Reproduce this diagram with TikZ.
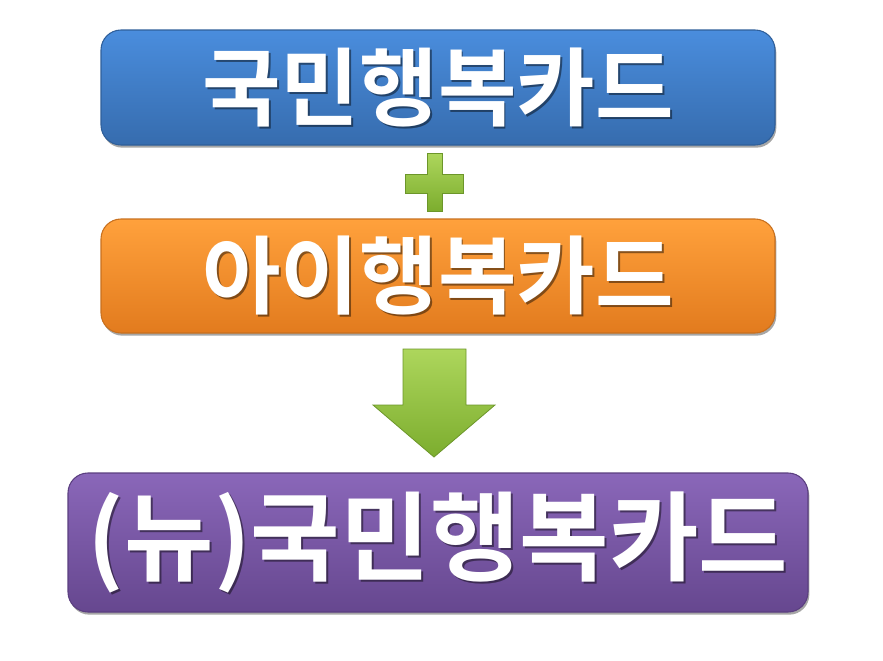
\documentclass[tikz,border=0pt]{standalone}
\usepackage{fontspec}
\newfontfamily\kr{Noto Sans CJK KR}[BoldFont={Noto Sans CJK KR Bold}]
\usetikzlibrary{shadows}
\definecolor{bluetop}{HTML}{4A8DDD}
\definecolor{bluebot}{HTML}{366CAE}
\definecolor{blueedge}{HTML}{2F5F9A}
\definecolor{orgtop}{HTML}{FFA13C}
\definecolor{orgbot}{HTML}{E27B1E}
\definecolor{orgedge}{HTML}{C8701E}
\definecolor{purtop}{HTML}{8A67B9}
\definecolor{purbot}{HTML}{66478F}
\definecolor{puredge}{HTML}{5B3F80}
\definecolor{grntop}{HTML}{ADD65C}
\definecolor{grnbot}{HTML}{7CAD2E}
\definecolor{grnedge}{HTML}{6C962A}
\tikzset{
  cardbox/.style={rounded corners=15pt, inner sep=0pt, line width=0.8pt,
    drop shadow={shadow xshift=1pt, shadow yshift=-2pt, opacity=0.35, fill=black}},
  cardtext/.style={text=white, inner sep=0pt},
  cardshadow/.style={text=black, opacity=0.45, inner sep=0pt},
  smallfont/.style={font=\kr\bfseries\fontsize{64}{66}\selectfont},
  bigfont/.style={font=\kr\bfseries\fontsize{73}{75}\selectfont},
  greenshape/.style={top color=grntop, bottom color=grnbot, draw=grnedge, line width=0.6pt}
}
\begin{document}
\begin{tikzpicture}[x=0.75pt,y=-0.75pt]
\useasboundingbox (0,0) rectangle (883,661);
% boxes
\node[cardbox, minimum width=505.5pt, minimum height=86.25pt,
  top color=bluetop, bottom color=bluebot, draw=blueedge] (blue) at (438,87.5) {};
\node[cardbox, minimum width=505.5pt, minimum height=85.5pt,
  top color=orgtop, bottom color=orgbot, draw=orgedge] (orange) at (438,276) {};
\node[cardbox, minimum width=555pt, minimum height=104.25pt,
  top color=purtop, bottom color=purbot, draw=puredge] (purple) at (438,542.5) {};
% texts
\node[cardshadow, smallfont] (bluesh) at ([xshift=1.5pt,yshift=-1.5pt]blue.center) {국민행복카드};
\node[cardtext, smallfont] (bluetxt) at (blue.center) {국민행복카드};
\node[cardshadow, smallfont] (orgsh) at ([xshift=1.5pt,yshift=-1.5pt]orange.center) {아이행복카드};
\node[cardtext, smallfont] (orgtxt) at (orange.center) {아이행복카드};
\node[cardshadow, bigfont] (pursh) at ([xshift=1.5pt,yshift=-1.5pt]purple.center) {(뉴)국민행복카드};
\node[cardtext, bigfont] (purtxt) at (purple.center) {(뉴)국민행복카드};
% plus sign
\path[greenshape] (427,153) -- (442,153) -- (442,174) -- (463,174) -- (463,193) -- (442,193)
  -- (442,211) -- (427,211) -- (427,193) -- (405,193) -- (405,174) -- (427,174) -- cycle;
% down arrow
\path[greenshape] (403,349) -- (466,349) -- (466,405) -- (495,405) -- (434,457) -- (373,405)
  -- (403,405) -- cycle;
\end{tikzpicture}
\end{document}
